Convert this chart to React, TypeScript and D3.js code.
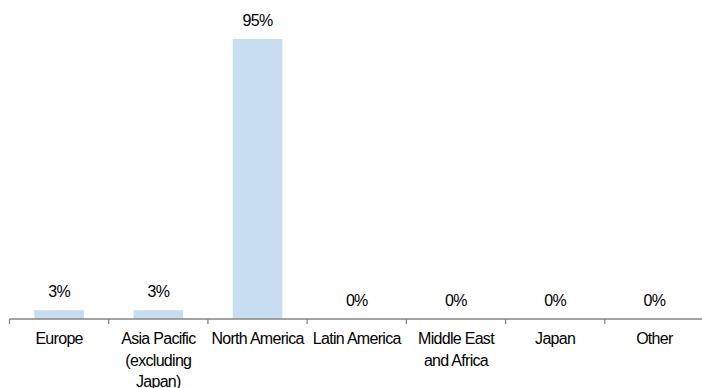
import React from "react";
import * as d3 from "d3";

// Regional revenue mix
const categories: string[][] = [
  ["Europe"],
  ["Asia Pacific", "(excluding", "Japan)"],
  ["North America"],
  ["Latin America"],
  ["Middle East", "and Africa"],
  ["Japan"],
  ["Other"],
];
const shares: number[] = [3, 3, 95, 0, 0, 0, 0];

const W = 702;
const H = 388;
const axisY = 319;
const FONT = "'Liberation Sans', Arial, sans-serif";

export default function App() {
  const keys = categories.map((c) => c.join(" "));
  const x = d3
    .scaleBand<string>()
    .domain(keys)
    .range([9.5, 704])
    .paddingInner(0.5)
    .paddingOuter(0.25);
  const y = d3.scaleLinear().domain([0, 100]).range([axisY, 24.3]);
  const step = x.step();
  const x0 = 9.5;

  return (
    <svg
      width={W}
      height={H}
      style={{ position: "absolute", left: 0, top: 0, background: "#fff" }}
      fontFamily={FONT}
    >
      {/* bars */}
      {keys.map((k, i) => (
        <rect
          key={k}
          x={x(k)!}
          y={y(shares[i])}
          width={x.bandwidth()}
          height={axisY - y(shares[i])}
          fill="#C9DDF0"
        />
      ))}
      {/* value labels */}
      {keys.map((k, i) => (
        <text
          key={"v" + k}
          x={x(k)! + x.bandwidth() / 2}
          y={y(shares[i]) - 13}
          textAnchor="middle"
          fontSize={16}
          letterSpacing={-0.7}
          fill="#000"
        >
          {shares[i]}%
        </text>
      ))}
      {/* axis */}
      <line x1={x0} x2={W} y1={axisY} y2={axisY} stroke="#858585" strokeWidth={1.3} />
      {d3.range(keys.length + 1).map((i) => (
        <line
          key={"t" + i}
          x1={x0 + i * step}
          x2={x0 + i * step}
          y1={axisY}
          y2={axisY + 5}
          stroke="#858585"
          strokeWidth={1.3}
        />
      ))}
      {/* category labels */}
      {categories.map((lines, i) => (
        <text
          key={"c" + i}
          x={x(keys[i])! + x.bandwidth() / 2}
          y={344}
          textAnchor="middle"
          fontSize={16}
          letterSpacing={-0.7}
          fill="#000"
        >
          {lines.map((l, j) => (
            <tspan key={j} x={x(keys[i])! + x.bandwidth() / 2} dy={j === 0 ? 0 : 21.5}>
              {l}
            </tspan>
          ))}
        </text>
      ))}
    </svg>
  );
}
